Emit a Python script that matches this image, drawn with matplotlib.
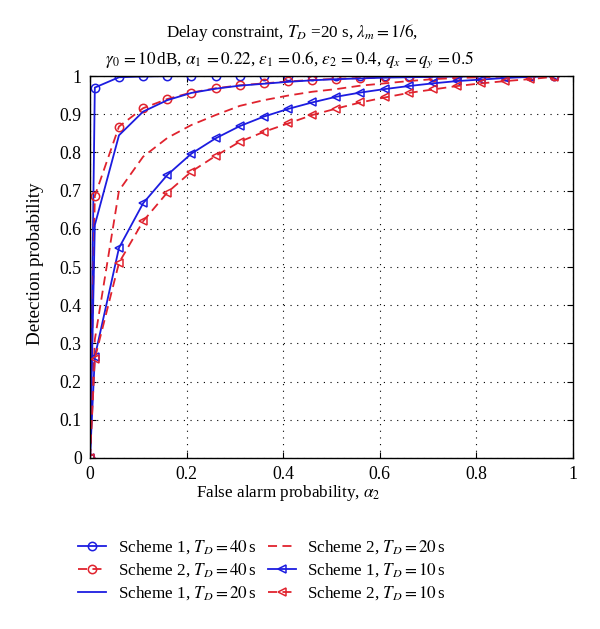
import matplotlib
matplotlib.use("Agg")
import matplotlib.pyplot as plt

plt.rcParams['font.family'] = ['Liberation Serif', 'DejaVu Serif']
plt.rcParams['mathtext.fontset'] = 'stix'

# Data
x = [0, 0.01, 0.06, 0.11, 0.16, 0.21, 0.26, 0.31, 0.36, 0.41, 0.46,
     0.51, 0.56, 0.61, 0.66, 0.71, 0.76, 0.81, 0.86, 0.91, 0.96]
s1_40 = [0, 0.97, 0.997, 0.999, 1, 1, 1, 1, 1, 1, 1,
         1, 1, 1, 1, 1, 1, 1, 1, 1, 1]
s2_40 = [0, 0.686, 0.868, 0.916, 0.940, 0.957, 0.968, 0.976, 0.981, 0.986, 0.990,
         0.993, 0.995, 0.997, 0.998, 0.998, 0.999, 0.999, 1.0, 1.0, 1.0]
s1_20 = [0, 0.61, 0.845, 0.907, 0.937, 0.956, 0.967, 0.975, 0.980, 0.985, 0.989,
         0.992, 0.994, 0.996, 0.997, 0.998, 0.999, 0.999, 1.0, 1.0, 1.0]
s2_20 = [0, 0.31, 0.70, 0.789, 0.838, 0.872, 0.898, 0.922, 0.937, 0.949, 0.959,
         0.966, 0.975, 0.981, 0.987, 0.992, 0.995, 0.997, 0.999, 1.0, 1.0]
s1_10 = [0, 0.265, 0.55, 0.667, 0.741, 0.797, 0.837, 0.869, 0.894, 0.914, 0.931,
         0.946, 0.957, 0.966, 0.974, 0.981, 0.987, 0.991, 0.995, 0.998, 1.0]
s2_10 = [0, 0.26, 0.511, 0.620, 0.695, 0.750, 0.791, 0.828, 0.854, 0.876, 0.898,
         0.915, 0.931, 0.944, 0.956, 0.965, 0.974, 0.981, 0.987, 0.992, 0.998]

labels = [r"Scheme 1, $T_D = 40\,$s", r"Scheme 2, $T_D = 40\,$s",
          r"Scheme 1, $T_D = 20\,$s", r"Scheme 2, $T_D = 20\,$s",
          r"Scheme 1, $T_D = 10\,$s", r"Scheme 2, $T_D = 10\,$s"]
xticks = [0, 0.2, 0.4, 0.6, 0.8, 1]
yticks = [0, 0.1, 0.2, 0.3, 0.4, 0.5, 0.6, 0.7, 0.8, 0.9, 1]
xtick_labels = ["0", "0.2", "0.4", "0.6", "0.8", "1"]
ytick_labels = ["0", "0.1", "0.2", "0.3", "0.4", "0.5", "0.6", "0.7", "0.8", "0.9", "1"]

blue = '#1c1ce0'
red = '#e0232e'

fig = plt.figure(figsize=(6.0, 6.29), dpi=100)
ax = fig.add_axes([0.15, 0.272, 0.805, 0.607])

fs = 12.3
lw = 1.3
ms = 6
ax.plot(x, s1_40, '-', color=blue, lw=lw, marker='o', ms=ms, mfc='none', mew=1.1, label=labels[0])
ax.plot(x, s2_40, '--', color=red, lw=lw, marker='o', ms=ms, mfc='none', mew=1.1, label=labels[1], dashes=(5, 3))
ax.plot(x, s1_20, '-', color=blue, lw=lw, label=labels[2])
ax.plot(x, s2_20, '--', color=red, lw=lw, label=labels[3], dashes=(5, 3))
ax.plot(x, s1_10, '-', color=blue, lw=lw, marker='<', ms=ms, mfc='none', mew=1.1, label=labels[4])
ax.plot(x, s2_10, '--', color=red, lw=lw, marker='<', ms=ms, mfc='none', mew=1.1, label=labels[5], dashes=(5, 3))

ax.set_xlim(0, 1)
ax.set_ylim(0, 1)
ax.set_xticks(xticks)
ax.set_xticklabels(xtick_labels, fontsize=fs + 0.5)
ax.set_yticks(yticks)
ax.set_yticklabels(ytick_labels, fontsize=fs + 0.5)
ax.tick_params(direction='in', top=True, right=True, length=4, width=0.8, pad=6)
ax.grid(True, linestyle=(0, (1, 5)), color='black', lw=0.8)
for s in ax.spines.values():
    s.set_linewidth(1.0)

ax.set_xlabel(r"False alarm probability, $\alpha_2$", fontsize=fs)
ax.set_ylabel("Detection probability", fontsize=13.8)
ax.xaxis.set_label_coords(0.41, -0.065)
ax.yaxis.set_label_coords(-0.095, 0.51)

fig.text(0.487, 0.948, r"Delay constraint, $T_D$ =20 s, $\lambda_m = 1/6$,",
         ha='center', va='center', fontsize=fs)
fig.text(0.482, 0.905, r"$\gamma_0\, = 10\,$dB, $\alpha_1\, = 0.22$, $\epsilon_1\, = 0.6$, $\epsilon_2\, = 0.4$, $q_x\, = q_y\, = 0.5$",
         ha='center', va='center', fontsize=fs)

fig.legend(loc='upper center', bbox_to_anchor=(0.437, 0.155), ncol=2, frameon=False,
           fontsize=fs, handlelength=1.6, columnspacing=0.7, handletextpad=0.7,
           labelspacing=0.3, borderaxespad=0)

fig.savefig("out.png", dpi=100)
